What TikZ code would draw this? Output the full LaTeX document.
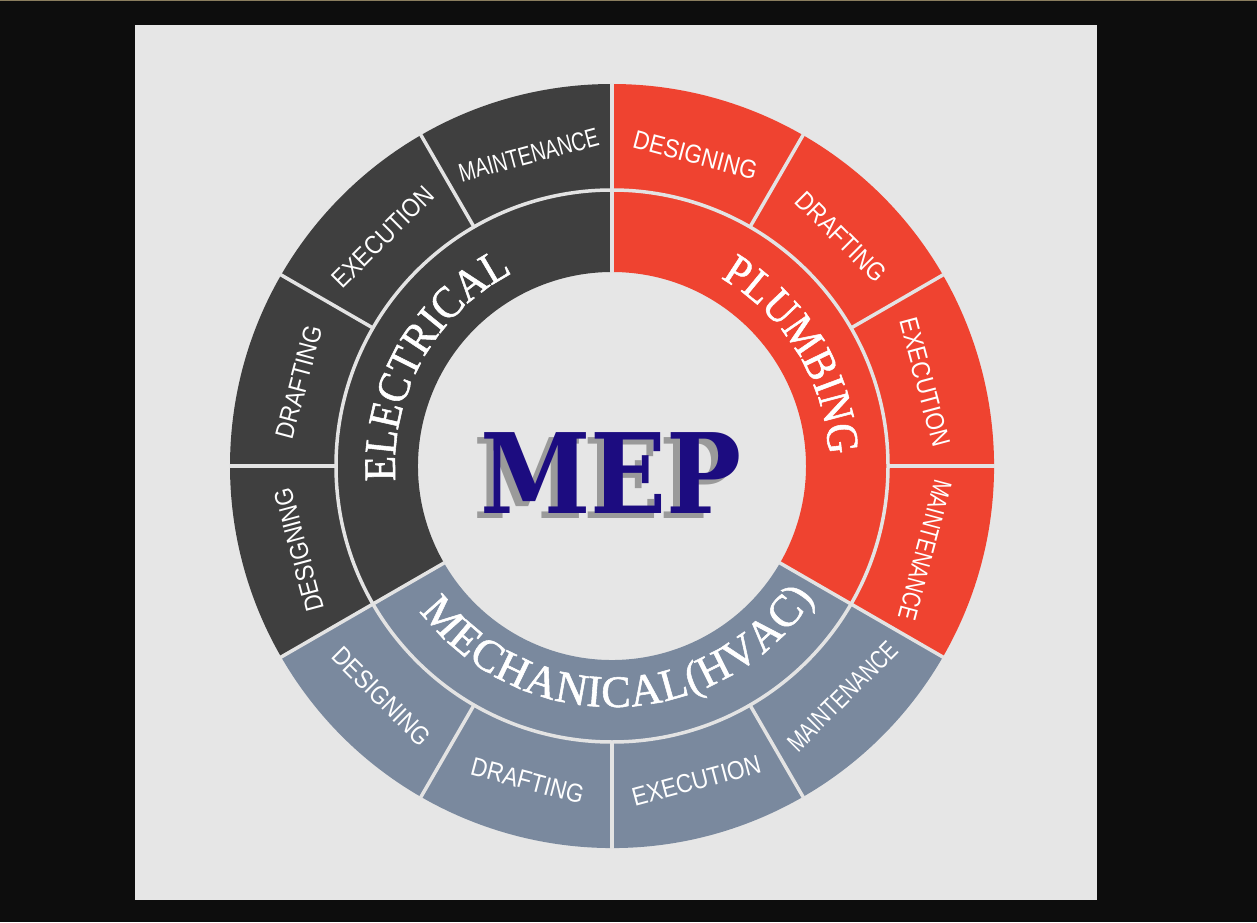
\documentclass[tikz,border=0pt]{standalone}
\usepackage{fontspec}
\usetikzlibrary{decorations.text}
\newfontfamily\lblfontA[FakeStretch=0.87]{Liberation Sans}
\newfontfamily\lblfontB[FakeStretch=0.76]{Liberation Sans}
\newfontfamily\ringfontA[FakeStretch=0.92,FakeBold=1.2]{Liberation Serif}
\newfontfamily\ringfontB[FakeStretch=0.98,FakeBold=1.2]{Liberation Serif}
\newfontfamily\mepfontA[FakeStretch=0.9]{DejaVu Serif Bold}
\newcommand\ringsz{\ringfontA\fontsize{45pt}{45pt}\selectfont}
\newcommand\ringszB{\ringfontB\fontsize{45pt}{45pt}\selectfont}
\definecolor{bgblack}{HTML}{0D0D0D}
\definecolor{topline}{HTML}{8A7D5E}
\definecolor{panel}{HTML}{E6E6E6}
\definecolor{elec}{HTML}{3F3F3F}
\definecolor{plumb}{HTML}{EF4330}
\definecolor{mech}{HTML}{7A899E}
\definecolor{divline}{HTML}{E3E3E3}
\definecolor{mepblue}{HTML}{1C0C80}
\definecolor{mepshadow}{HTML}{9A9A9A}
\tikzset{
  divider/.style={draw=divline, line width=3.5pt},
  lbl/.style={text=white, inner sep=0pt, font=\lblfontA\fontsize{26pt}{26pt}\selectfont},
  lblnarrow/.style={text=white, inner sep=0pt, font=\lblfontB\fontsize{26pt}{26pt}\selectfont},
  meptext/.style={inner sep=0pt, font=\mepfontA\fontsize{111pt}{111pt}\selectfont},
}
\begin{document}
\begin{tikzpicture}
\useasboundingbox (0,0) rectangle (1257pt,922pt);
\fill[bgblack] (0,0) rectangle (1257pt,922pt);
\fill[topline] (0,920.5pt) rectangle (1257pt,922pt);
\fill[panel] (135pt,22pt) rectangle (1097pt,897pt);
\begin{scope}[shift={(612pt,456pt)}]
  % sectors
  \fill[elec] (90:382pt) arc[start angle=90, end angle=210, radius=382pt] -- (210:194pt) arc[start angle=210, end angle=90, radius=194pt] -- cycle;
  \fill[mech] (210:382pt) arc[start angle=210, end angle=330, radius=382pt] -- (330:194pt) arc[start angle=330, end angle=210, radius=194pt] -- cycle;
  \fill[plumb] (-30:382pt) arc[start angle=-30, end angle=90, radius=382pt] -- (90:194pt) arc[start angle=90, end angle=-30, radius=194pt] -- cycle;
  % dividers
  \draw[divider] (0,0) circle[radius=276pt];
  \foreach \a in {90,210,330} \draw[divider] (\a:193pt) -- (\a:383pt);
  \foreach \a in {0,30,60,120,150,180,240,270,300} \draw[divider] (\a:276pt) -- (\a:383pt);
  % ring labels
  \path[decorate, decoration={text along path, text={|\ringsz|ELECTRICAL}, text color=white, text align=fit to path}]
    (184:217pt) arc[start angle=184, end angle=120, radius=217pt];
  \path[decorate, decoration={text along path, text={|\ringsz|PLUMBING}, text color=white, text align=fit to path}]
    (60:217pt) arc[start angle=60, end angle=5, radius=217pt];
  \path[decorate, decoration={text along path, text={|\ringszB|MECHANICAL(HVAC)}, text color=white, text align=fit to path}]
    (217:241pt) arc[start angle=217, end angle=327, radius=241pt];
  % outer labels: electrical
  \node[lblnarrow, rotate=15] (e1) at (105:322pt) {MAINTENANCE};
  \node[lbl, rotate=45] (e2) at (135:324pt) {EXECUTION};
  \node[lbl, rotate=75] (e3) at (165:324pt) {DRAFTING};
  \node[lbl, rotate=105] (e4) at (195:324pt) {DESIGNING};
  % plumbing
  \node[lbl, rotate=-15] (p1) at (75:322pt) {DESIGNING};
  \node[lbl, rotate=-45] (p2) at (45:324pt) {DRAFTING};
  \node[lbl, rotate=-75] (p3) at (15:324pt) {EXECUTION};
  \node[lblnarrow, rotate=-105] (p4) at (-15:324pt) {MAINTENANCE};
  % mechanical
  \node[lbl, rotate=-45] (m1) at (225:326pt) {DESIGNING};
  \node[lbl, rotate=-15] (m2) at (255:326pt) {DRAFTING};
  \node[lbl, rotate=15] (m3) at (285:326pt) {EXECUTION};
  \node[lblnarrow, rotate=45] (m4) at (315:326pt) {MAINTENANCE};
  % MEP
  \node[meptext, text=mepshadow, anchor=base] (mepsh) at (-8pt,-52pt) {MEP};
  \node[meptext, text=mepblue, anchor=base] (mep) at (-1pt,-47pt) {MEP};
\end{scope}
\end{tikzpicture}
\end{document}
